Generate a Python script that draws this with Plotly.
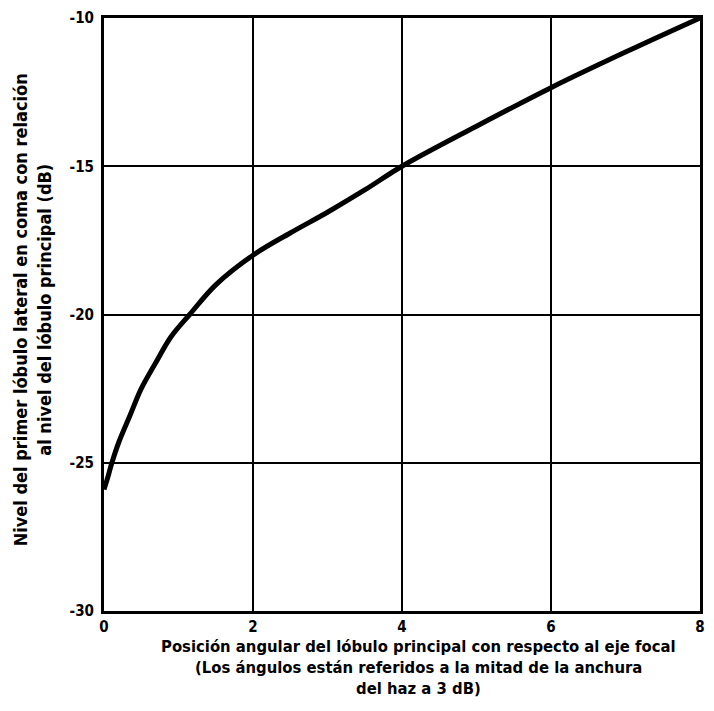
import plotly.graph_objects as go

# Data
x_pos = [0, 0.05, 0.1, 0.2, 0.35, 0.5, 0.7, 0.9, 1.15, 1.5, 2.0, 2.5, 3.0, 3.5, 4.0, 5.0, 6.0, 7.0, 8.0]
level_db = [-25.9, -25.5, -25.05, -24.3, -23.4, -22.5, -21.6, -20.75, -20.0, -19.0, -18.0,
            -17.25, -16.55, -15.8, -15.0, -13.65, -12.35, -11.15, -10.0]

x_ticks = [0, 2, 4, 6, 8]
x_tick_labels = ["0", "2", "4", "6", "8"]
y_ticks = [-30, -25, -20, -15, -10]
y_tick_labels = ["-30", "-25", "-20", "-15", "-10"]

x_title_lines = ["Posición angular del lóbulo principal con respecto al eje focal",
                 "(Los ángulos están referidos a la mitad de la anchura",
                 "del haz a 3 dB)"]
y_title_lines = ["Nivel del primer lóbulo lateral en coma con relación",
                 "al nivel del lóbulo principal (dB)"]

FONT = "Liberation Sans Narrow, DejaVu Sans Condensed, Arial Narrow, sans-serif"

fig = go.Figure()
fig.add_trace(go.Scatter(
    x=x_pos, y=level_db, mode="lines",
    line=dict(color="black", width=5, shape="spline", smoothing=1.0),
    hoverinfo="skip", showlegend=False,
))

annotations = []
for txt, yp in zip(x_title_lines, [-0.06, -0.095, -0.13]):
    annotations.append(dict(text=txt, xref="paper", yref="paper", x=0.528, y=yp,
                            xanchor="center", yanchor="middle", showarrow=False,
                            font=dict(family=FONT, size=16.5, color="black", weight="bold")))
for txt, xp in zip(y_title_lines, [-0.14, -0.099]):
    annotations.append(dict(text=txt, xref="paper", yref="paper", x=xp, y=0.508,
                            xanchor="center", yanchor="middle", showarrow=False,
                            textangle=-90,
                            font=dict(family=FONT, size=18, color="black", weight="bold")))

fig.update_layout(
    width=714, height=711,
    margin=dict(l=104, r=9, t=11, b=100),
    paper_bgcolor="white", plot_bgcolor="white",
    font=dict(family=FONT, color="black"),
    xaxis=dict(
        range=[0, 8], tickvals=x_ticks, ticktext=x_tick_labels,
        showgrid=True, gridcolor="black", gridwidth=2,
        showline=True, linecolor="black", linewidth=3, mirror=True,
        zeroline=False, ticks="",
        tickfont=dict(family=FONT, size=15, color="black", weight="bold"),
    ),
    yaxis=dict(
        range=[-30, -10], tickvals=y_ticks, ticktext=y_tick_labels,
        showgrid=True, gridcolor="black", gridwidth=2,
        showline=True, linecolor="black", linewidth=3, mirror=True,
        zeroline=False, ticks="", ticklabelstandoff=4,
        tickfont=dict(family=FONT, size=15, color="black", weight="bold"),
    ),
    annotations=annotations,
)

fig.write_html("out.html")
